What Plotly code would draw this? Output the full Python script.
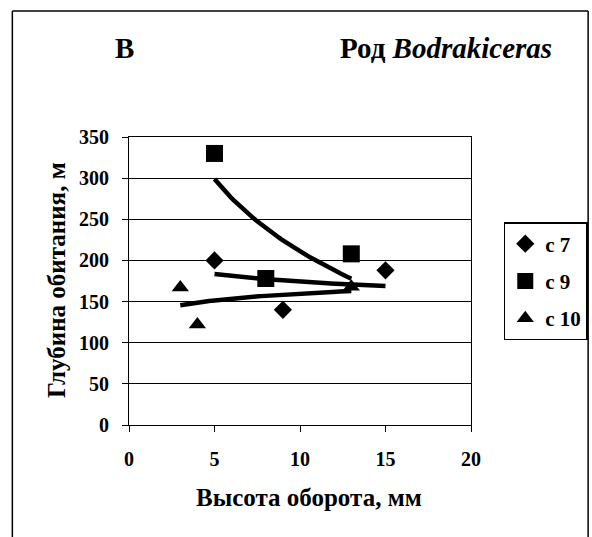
import numpy as np
import plotly.graph_objects as go

# Data
series_names = ["с 7", "с 9", "с 10"]
c7_x = [5, 9, 15]
c7_y = [200, 140, 188]
c9_x = [5, 8, 13]
c9_y = [330, 178, 208]
c10_x = [3, 4, 13]
c10_y = [167, 122, 168]
x_ticks = [0, 5, 10, 15, 20]
y_ticks = [0, 50, 100, 150, 200, 250, 300, 350]

symbols = ["diamond", "square", "triangle-up"]
sizes = [14, 17, 15]

fig = go.Figure()

data = [(c7_x, c7_y), (c9_x, c9_y), (c10_x, c10_y)]
# logarithmic trendlines (y = a + b ln x), fitted from the data
for xs, ys in data:
    xs_a = np.array(xs, float)
    ys_a = np.array(ys, float)
    b, a = np.polyfit(np.log(xs_a), ys_a, 1)
    xt = np.linspace(xs_a.min(), xs_a.max(), 60)
    fig.add_trace(go.Scatter(x=xt, y=a + b * np.log(xt), mode="lines",
                             line=dict(color="black", width=4.5),
                             showlegend=False, hoverinfo="skip"))

for (xs, ys), name, sym, sz in zip(data, series_names, symbols, sizes):
    fig.add_trace(go.Scatter(x=xs, y=ys, mode="markers", name=name,
                             legendgroup=name,
                             marker=dict(symbol=sym, size=sz, color="black")))

SX = 600 / 592.0  # horizontal compensation
W, H = 600, 537
L, R, T, B = 127.5 * SX, 472 * SX, 137, 425
pw, ph = R - L, B - T

def px(x):
    return (x * SX - L) / pw

def py(y):
    return (B - y) / ph

font_family = "Liberation Serif"

fig.update_layout(
    width=W, height=H,
    margin=dict(l=L, r=W - R, t=T, b=H - B, pad=0),
    paper_bgcolor="white", plot_bgcolor="white",
    font=dict(family=font_family, color="black"),
    showlegend=True,
    legend=dict(x=px(505), y=py(222), xanchor="left", yanchor="top",
                bordercolor="black", borderwidth=1.5,
                font=dict(size=21, family=font_family, color="black", weight="bold"),
                tracegroupgap=7, itemwidth=30, bgcolor="white"),
    xaxis=dict(range=[0, 20], tickvals=x_ticks, ticktext=[str(v) for v in x_ticks],
               showgrid=False, zeroline=False, showline=True, linecolor="black",
               linewidth=1, mirror=True, ticks="outside", ticklen=6,
               tickcolor="black",
               tickfont=dict(size=20, family=font_family, color="black", weight="bold"),
               ticklabelstandoff=10),
    yaxis=dict(range=[0, 350], tickvals=y_ticks, ticktext=[str(v) for v in y_ticks],
               showgrid=True, gridcolor="black", gridwidth=1, zeroline=False,
               showline=True, linecolor="black", linewidth=1, mirror=True,
               ticks="outside", ticklen=6, tickcolor="black",
               tickfont=dict(size=20, family=font_family, color="black", weight="bold"),
               ticklabelstandoff=9),
)

ann_font = dict(family=font_family, color="black")
fig.add_annotation(x=px(111), y=py(48), xref="paper", yref="paper", text="<b>B</b>",
                   showarrow=False, xanchor="left", yanchor="middle",
                   font=dict(size=29, **ann_font))
fig.add_annotation(x=px(556), y=py(48), xref="paper", yref="paper",
                   text="<b>Род <i>Bodrakiceras</i></b>",
                   showarrow=False, xanchor="right", yanchor="middle",
                   font=dict(size=29, **ann_font))
fig.add_annotation(x=px(309), y=py(497), xref="paper", yref="paper",
                   text="<b>Высота оборота, мм</b>",
                   showarrow=False, xanchor="center", yanchor="middle",
                   font=dict(size=25, **ann_font))
fig.add_annotation(x=px(54), y=py(280), xref="paper", yref="paper",
                   text="<b>Глубина обитания, м</b>", textangle=-90,
                   showarrow=False, xanchor="center", yanchor="middle",
                   font=dict(size=25, **ann_font))

# outer frame of the figure
for x0, y0, x1, y1 in [(10, 11, 590, 11), (10, 11, 10, 537), (590, 11, 590, 537)]:
    fig.add_shape(type="line", xref="paper", yref="paper",
                  x0=px(x0), y0=py(y0), x1=px(x1), y1=py(y1),
                  line=dict(color="black", width=1.5))

fig.write_html(
    "out.html",
    config={"displayModeBar": False, "responsive": False},
    post_script=(
        "document.documentElement.style.margin='0';"
        "document.documentElement.style.overflow='hidden';"
        "document.body.style.margin='0';"
        "document.body.style.overflow='hidden';"
    ),
)
